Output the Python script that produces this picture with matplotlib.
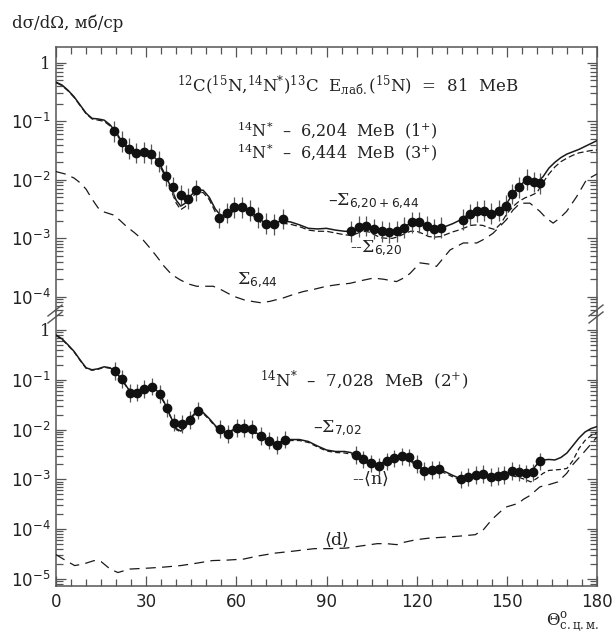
import numpy as np
import matplotlib
matplotlib.use('Agg')
import matplotlib.pyplot as plt
from matplotlib.ticker import (FixedLocator, FixedFormatter, LogLocator,
                               NullFormatter, MultipleLocator)
from matplotlib.lines import Line2D

# ---------------- data (log10 of dsigma/dOmega, mb/sr) ----------------
theta_curve = [0, 2, 4, 6, 8, 10, 12, 14, 16, 18, 20, 22, 24, 26, 28, 30, 32, 34, 36, 38,
               40, 41.5, 43, 45, 47, 49, 51, 53, 55, 57, 59, 61, 63, 65, 67, 69, 71, 73, 75,
               78, 81, 84, 87, 90, 93, 96, 98, 100, 102, 104, 106, 108, 110, 112, 114, 116,
               118, 120, 122, 124, 126, 128, 130, 132, 134, 136, 138, 140, 142, 144, 146,
               148, 150, 152, 154, 156, 158, 160, 162, 164, 166, 168, 170, 172, 174, 176,
               178, 180]

# top panel: 6.204 + 6.444 MeV
sum_620_644_log = [-0.33, -0.38, -0.47, -0.58, -0.72, -0.86, -0.95, -0.96, -0.98, -1.06,
                   -1.19, -1.35, -1.45, -1.51, -1.52, -1.53, -1.58, -1.68, -1.88, -2.10,
                   -2.35, -2.45, -2.40, -2.26, -2.17, -2.18, -2.30, -2.50, -2.62, -2.58,
                   -2.49, -2.46, -2.48, -2.55, -2.64, -2.72, -2.76, -2.74, -2.70, -2.72,
                   -2.77, -2.83, -2.84, -2.83, -2.86, -2.88, -2.88, -2.83, -2.79, -2.80,
                   -2.85, -2.89, -2.90, -2.89, -2.86, -2.80, -2.74, -2.72, -2.75, -2.81,
                   -2.83, -2.82, -2.79, -2.75, -2.70, -2.63, -2.58, -2.54, -2.53, -2.56,
                   -2.55, -2.49, -2.40, -2.24, -2.12, -2.02, -2.02, -2.04, -1.95, -1.80,
                   -1.70, -1.62, -1.56, -1.52, -1.48, -1.43, -1.38, -1.33]

s620_log = [-0.34, -0.39, -0.48, -0.59, -0.73, -0.87, -0.96, -0.98, -1.00, -1.08,
            -1.21, -1.37, -1.47, -1.53, -1.54, -1.56, -1.61, -1.71, -1.91, -2.14,
            -2.40, -2.51, -2.46, -2.31, -2.21, -2.22, -2.34, -2.55, -2.67, -2.63,
            -2.54, -2.50, -2.52, -2.59, -2.68, -2.76, -2.80, -2.78, -2.74, -2.76,
            -2.80, -2.86, -2.88, -2.88, -2.91, -2.94, -2.95, -2.92, -2.88, -2.89,
            -2.94, -2.99, -3.00, -3.00, -2.97, -2.92, -2.88, -2.88, -2.92, -2.97,
            -2.98, -2.97, -2.93, -2.89, -2.86, -2.82, -2.78, -2.77, -2.78, -2.82,
            -2.85, -2.75, -2.58, -2.46, -2.37, -2.31, -2.27, -2.22, -2.05, -1.90,
            -1.78, -1.69, -1.63, -1.58, -1.54, -1.52, -1.50, -1.49]

theta_644 = [0, 3, 6, 8, 10, 12, 14, 16, 19, 21, 23.5, 26, 29, 31, 33.5, 36, 38.5, 41.3,
             44, 46.8, 49, 52.3, 55, 59, 63, 67.9, 71, 75.6, 79, 82.3, 86, 90, 94, 97.8,
             101, 105.6, 109, 113.3, 116, 117.8, 121.1, 124, 126.6, 129, 131.1, 135.5,
             140, 143, 145.5, 148, 149.9, 152, 154.4, 157.7, 161, 163, 165.4, 167.5,
             169.9, 173.2, 176.5, 180]
s644_log = [-1.86, -1.90, -1.97, -2.05, -2.16, -2.33, -2.48, -2.55, -2.60, -2.68, -2.80,
            -2.90, -3.03, -3.15, -3.31, -3.48, -3.62, -3.71, -3.78, -3.82, -3.82, -3.82,
            -3.88, -3.99, -4.06, -4.10, -4.08, -4.02, -3.96, -3.91, -3.87, -3.82, -3.79,
            -3.77, -3.73, -3.68, -3.70, -3.74, -3.67, -3.60, -3.42, -3.44, -3.48, -3.33,
            -3.20, -3.08, -3.08, -3.00, -2.91, -2.78, -2.68, -2.52, -2.40, -2.40, -2.54,
            -2.65, -2.74, -2.66, -2.54, -2.29, -2.00, -1.90]

theta_exp_top = [19.4, 21.8, 24.3, 26.6, 29.3, 31.6, 34.2, 36.5, 38.9, 41.5, 43.9, 46.6,
                 54.2, 56.8, 59.3, 62.0, 64.5, 67.1, 69.8, 72.4, 75.4,
                 98.0, 100.8, 103.3, 105.8, 108.3, 110.9, 113.3, 115.9, 118.4, 120.8,
                 123.3, 125.7, 128.2,
                 135.3, 137.7, 140.1, 142.3, 144.7, 147.3, 149.6, 151.8, 154.0, 156.6,
                 158.9, 161.2]
exp_top_log = [-1.17, -1.35, -1.47, -1.54, -1.53, -1.56, -1.69, -1.93, -2.12, -2.26,
               -2.32, -2.18, -2.65, -2.57, -2.47, -2.47, -2.53, -2.64, -2.75, -2.76,
               -2.67, -2.88, -2.80, -2.79, -2.84, -2.88, -2.90, -2.88, -2.82, -2.73,
               -2.73, -2.79, -2.84, -2.82, -2.68, -2.59, -2.54, -2.53, -2.58, -2.53,
               -2.44, -2.24, -2.13, -2.00, -2.04, -2.06]

# bottom panel: 7.028 MeV
s702_log = [-0.10, -0.18, -0.30, -0.43, -0.60, -0.76, -0.80, -0.78, -0.74, -0.76,
            -0.85, -1.00, -1.18, -1.25, -1.23, -1.18, -1.15, -1.24, -1.45, -1.72,
            -1.98, -2.03, -1.93, -1.75, -1.62, -1.66, -1.78, -1.92, -2.02, -2.06,
            -2.00, -1.97, -1.97, -2.00, -2.08, -2.17, -2.24, -2.27, -2.24, -2.20,
            -2.20, -2.24, -2.33, -2.41, -2.44, -2.44, -2.46, -2.52, -2.60, -2.66,
            -2.70, -2.68, -2.62, -2.57, -2.55, -2.56, -2.61, -2.70, -2.79, -2.82,
            -2.81, -2.81, -2.86, -2.92, -2.97, -2.96, -2.92, -2.90, -2.90, -2.93,
            -2.93, -2.91, -2.87, -2.85, -2.86, -2.88, -2.85, -2.70, -2.61, -2.60,
            -2.61, -2.56, -2.47, -2.32, -2.17, -2.05, -1.98, -1.94]

n_log = [-0.11, -0.19, -0.31, -0.44, -0.61, -0.77, -0.81, -0.79, -0.75, -0.77,
         -0.86, -1.01, -1.19, -1.26, -1.24, -1.19, -1.16, -1.25, -1.46, -1.73,
         -2.00, -2.05, -1.95, -1.77, -1.64, -1.68, -1.80, -1.94, -2.04, -2.08,
         -2.02, -1.99, -1.99, -2.02, -2.10, -2.19, -2.26, -2.29, -2.26, -2.22,
         -2.22, -2.26, -2.35, -2.43, -2.46, -2.47, -2.49, -2.55, -2.63, -2.69,
         -2.73, -2.71, -2.65, -2.60, -2.58, -2.59, -2.64, -2.73, -2.82, -2.85,
         -2.84, -2.84, -2.89, -2.95, -3.00, -2.99, -2.96, -2.94, -2.94, -2.97,
         -2.97, -2.95, -2.92, -2.93, -2.96, -3.00, -3.05, -2.98, -2.88, -2.82,
         -2.81, -2.80, -2.78, -2.62, -2.38, -2.22, -2.12, -2.06]

theta_d = [0, 3, 6.2, 9, 12.7, 15, 18, 20.6, 24.5, 31, 36, 41.5, 47, 52, 57, 62.4, 67,
           72.9, 79, 86, 91, 96.4, 101, 106.9, 110, 113.4, 116, 119.9, 124, 129.1, 134,
           139.5, 142.2, 144, 146, 148, 150, 153.9, 155.5, 157.8, 161, 164.3, 167,
           169.9, 172, 175.3, 178.7, 180]
d_log = [-4.51, -4.62, -4.73, -4.70, -4.63, -4.65, -4.80, -4.87, -4.80, -4.78, -4.76,
         -4.73, -4.68, -4.63, -4.62, -4.60, -4.54, -4.48, -4.44, -4.39, -4.39, -4.38,
         -4.34, -4.29, -4.29, -4.31, -4.26, -4.21, -4.18, -4.16, -4.14, -4.11, -4.01,
         -3.88, -3.75, -3.64, -3.55, -3.48, -3.40, -3.32, -3.15, -3.10, -3.05, -2.88,
         -2.70, -2.48, -2.24, -2.15]

theta_exp_bot = [19.6, 22.1, 24.6, 26.9, 29.4, 32.0, 34.6, 37.0, 39.4, 41.9, 44.5, 47.1,
                 54.6, 57.3, 60.1, 62.6, 65.3, 68.1, 70.8, 73.4, 76.3,
                 99.7, 102.2, 104.8, 107.5, 110.0, 112.6, 115.1, 117.6, 120.0, 122.5,
                 125.1, 127.5,
                 134.7, 137.2, 139.6, 142.2, 144.6, 147.0, 149.0, 151.6, 154.0, 156.4,
                 158.6, 161.0]
exp_bot_log = [-0.82, -0.99, -1.27, -1.26, -1.19, -1.14, -1.29, -1.57, -1.86, -1.89,
               -1.81, -1.62, -1.99, -2.09, -1.97, -1.97, -1.99, -2.13, -2.22, -2.31,
               -2.20, -2.51, -2.60, -2.68, -2.74, -2.64, -2.58, -2.54, -2.56, -2.69,
               -2.83, -2.81, -2.80, -3.00, -2.95, -2.91, -2.89, -2.95, -2.93, -2.91,
               -2.83, -2.86, -2.88, -2.86, -2.64]

err_factor = 1.5  # multiplicative error bar half-size

x_ticks = [0, 30, 60, 90, 120, 150, 180]
x_ticklabels = ['0', '30', '60', '90', '120', '150', '180']
y_ticks_top = [1, 1e-1, 1e-2, 1e-3, 1e-4]
y_ticklabels_top = ['1', r'$\mathsf{10^{-1}}$', r'$\mathsf{10^{-2}}$',
                    r'$\mathsf{10^{-3}}$', r'$\mathsf{10^{-4}}$']
y_ticks_bot = [1, 1e-1, 1e-2, 1e-3, 1e-4, 1e-5]
y_ticklabels_bot = ['1', r'$\mathsf{10^{-1}}$', r'$\mathsf{10^{-2}}$',
                    r'$\mathsf{10^{-3}}$', r'$\mathsf{10^{-4}}$', r'$\mathsf{10^{-5}}$']

# ---------------- style ----------------
plt.rcParams['font.family'] = ['DejaVu Serif']
plt.rcParams['mathtext.fontset'] = 'dejavuserif'

LINE = '#1a1a1a'
AXC = '#555555'
TXT = '#222222'

W, H = 613, 634
fig = plt.figure(figsize=(W / 100, H / 100), dpi=100)
ax_top = fig.add_axes([56 / W, 1 - 312 / H, 541 / W, 265 / H])
ax_bot = fig.add_axes([56 / W, 1 - 586 / H, 541 / W, 274 / H])


def v(lst):
    return 10.0 ** np.asarray(lst)


def style_axis(ax, yticks, ylabels, ylim):
    ax.set_yscale('log')
    ax.set_xlim(0, 180)
    ax.set_ylim(*ylim)
    ax.xaxis.set_major_locator(FixedLocator(x_ticks))
    ax.xaxis.set_minor_locator(MultipleLocator(5))
    ax.yaxis.set_major_locator(FixedLocator(yticks))
    ax.yaxis.set_major_formatter(FixedFormatter(ylabels))
    ax.yaxis.set_minor_locator(LogLocator(base=10, subs=np.arange(2, 10), numticks=30))
    ax.yaxis.set_minor_formatter(NullFormatter())
    ax.tick_params(which='both', direction='in', color=AXC, width=0.9,
                   left=True, right=True, labelcolor=TXT, labelsize=12)
    ax.tick_params(which='major', length=7)
    ax.tick_params(which='minor', length=5)
    ax.tick_params(axis='y', pad=4)
    for s in ax.spines.values():
        s.set_color(AXC)
        s.set_linewidth(1.1)


style_axis(ax_top, y_ticks_top, y_ticklabels_top, (10 ** -4.26, 10 ** 0.27))
style_axis(ax_bot, y_ticks_bot, y_ticklabels_bot, (10 ** -5.14, 10 ** 0.36))

ax_top.spines['bottom'].set_visible(False)
ax_bot.spines['top'].set_visible(False)
ax_top.tick_params(axis='x', which='both', top=True, bottom=False, labelbottom=False)
ax_bot.tick_params(axis='x', which='both', top=False, bottom=True, pad=5)
ax_bot.set_xticklabels(x_ticklabels, fontfamily='DejaVu Sans')

# ---------------- top panel ----------------
ax_top.plot(theta_curve, v(sum_620_644_log), color=LINE, lw=1.1, zorder=3)
ax_top.plot(theta_curve, v(s620_log), color=LINE, lw=0.9, dashes=(5, 2.5), zorder=3)
ax_top.plot(theta_644, v(s644_log), color=LINE, lw=0.9, dashes=(8, 5), zorder=3)
yt = v(exp_top_log)
ax_top.errorbar(theta_exp_top, yt, yerr=[yt - yt / err_factor, yt * err_factor - yt],
                fmt='o', ms=6, color='#111111', ecolor=AXC, elinewidth=0.9,
                capsize=0, zorder=5)

fs = 12
ax_top.text(40.3, 10 ** -0.376,
            r'$^{12}$C($^{15}$N,$^{14}$N$^{*}$)$^{13}$C  E$_{\rm лаб.}$($^{15}$N)  =  81  MeB',
            fontsize=fs, color=TXT, ha='left', va='center')
ax_top.text(60.2, 10 ** -1.15, r'$^{14}$N$^{*}$  –  6,204  MeB  (1$^{+}$)',
            fontsize=11.5, color=TXT, ha='left', va='center')
ax_top.text(60.2, 10 ** -1.52, r'$^{14}$N$^{*}$  –  6,444  MeB  (3$^{+}$)',
            fontsize=11.5, color=TXT, ha='left', va='center')
ax_top.text(90.5, 10 ** -2.36, r'–$\Sigma_{\mathsf{6{,}20+6{,}44}}$',
            fontsize=12.5, color=TXT, ha='left', va='center')
ax_top.text(97.8, 10 ** -3.17, r'--$\Sigma_{\mathsf{6{,}20}}$',
            fontsize=12.5, color=TXT, ha='left', va='center')
ax_top.text(60.2, 10 ** -3.72, r'$\Sigma_{\mathsf{6{,}44}}$',
            fontsize=12.5, color=TXT, ha='left', va='center')

# ---------------- bottom panel ----------------
ax_bot.plot(theta_curve, v(s702_log), color=LINE, lw=1.1, zorder=3)
ax_bot.plot(theta_curve, v(n_log), color=LINE, lw=0.9, dashes=(4, 2.5), zorder=3)
ax_bot.plot(theta_d, v(d_log), color=LINE, lw=0.9, dashes=(8, 5), zorder=3)
yb = v(exp_bot_log)
ax_bot.errorbar(theta_exp_bot, yb, yerr=[yb - yb / err_factor, yb * err_factor - yb],
                fmt='o', ms=6, color='#111111', ecolor=AXC, elinewidth=0.9,
                capsize=0, zorder=5)

ax_bot.text(67.9, 10 ** -1.02, r'$^{14}$N$^{*}$  –  7,028  MeB  (2$^{+}$)',
            fontsize=fs, color=TXT, ha='left', va='center')
ax_bot.text(85.5, 10 ** -1.97, r'–$\Sigma_{\mathsf{7{,}02}}$',
            fontsize=12.5, color=TXT, ha='left', va='center')
ax_bot.text(98.5, 10 ** -2.99, r'--$\langle$n$\rangle$',
            fontsize=12.5, color=TXT, ha='left', va='center')
ax_bot.text(93.5, 10 ** -4.22, r'$\langle$d$\rangle$',
            fontsize=12.5, color=TXT, ha='center', va='center')

# ---------------- axis labels ----------------
fig.text(12 / W, 1 - 23 / H, 'dσ/dΩ, мб/ср', fontsize=12, color=TXT,
         ha='left', va='center')
fig.text(546 / W, 1 - 623 / H, r'$\Theta^{\rm o}_{\rm с.ц.м.}$', fontsize=12,
         color=TXT, ha='left', va='center')

# ---------------- axis break marks ----------------
for sx in (56, 597):
    for dy in (0, 7):
        fig.add_artist(Line2D([(sx - 8) / W, (sx + 6) / W],
                              [1 - (316 + dy) / H, 1 - (305 + dy) / H],
                              color=AXC, lw=1.0, transform=fig.transFigure))

fig.savefig('out.png', dpi=100, facecolor='white')
